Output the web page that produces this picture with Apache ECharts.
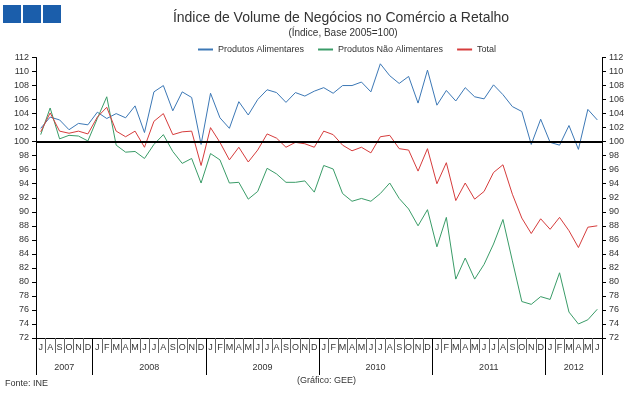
<!DOCTYPE html>
<html><head><meta charset="utf-8">
<script src="https://cdn.jsdelivr.net/npm/echarts@6/dist/echarts.min.js"></script>
<style>html,body{margin:0;padding:0;background:#fff}#c{width:643px;height:394px}</style>
</head><body><div id="c"></div>
<script>
const monthLabels = ['J','A','S','O','N','D',
 'J','F','M','A','M','J','J','A','S','O','N','D',
 'J','F','M','A','M','J','J','A','S','O','N','D',
 'J','F','M','A','M','J','J','A','S','O','N','D',
 'J','F','M','A','M','J','J','A','S','O','N','D',
 'J','F','M','A','M','J'];
const years = ['2007','2008','2009','2010','2011','2012'];
const monthsPerYear = [6,12,12,12,12,6];
const yTicks = {min:72, max:112, step:2};

const alimentares = [101.9,103.5,103.1,101.7,102.6,102.4,104.2,103.3,104.0,103.4,105.1,101.3,
 107.1,108.0,104.4,107.1,106.3,99.6,106.9,103.4,101.9,105.7,103.8,106.0,
 107.4,107.0,105.6,107.0,106.5,107.2,107.7,106.9,108.0,108.0,108.5,107.1,
 111.1,109.4,108.3,109.3,105.5,110.2,105.2,107.3,105.8,107.7,106.4,106.1,
 108.1,106.7,105.0,104.3,99.6,103.2,99.9,99.5,102.3,98.9,104.6,103.1];
const naoAlimentares = [101.0,104.8,100.4,100.9,100.8,100.1,103.3,106.4,99.5,98.5,98.6,97.6,
 99.6,101.0,98.6,96.9,97.6,94.1,98.3,97.4,94.1,94.2,91.8,92.9,
 96.2,95.4,94.2,94.2,94.4,92.8,96.6,96.1,92.6,91.5,91.9,91.5,
 92.6,94.1,91.9,90.4,88.0,90.3,85.0,89.2,80.4,83.4,80.4,82.5,
 85.4,88.9,83.0,77.2,76.8,77.9,77.5,81.3,75.7,74.0,74.6,76.1];
const total = [101.4,104.1,101.5,101.2,101.5,101.1,103.5,104.9,101.5,100.7,101.5,99.2,
 102.9,104.0,101.0,101.4,101.5,96.6,102.0,99.9,97.4,99.2,97.1,98.8,
 101.1,100.5,99.2,99.9,99.7,99.2,101.5,101.0,99.5,98.7,99.2,98.4,
 100.7,100.9,99.0,98.8,95.8,99.0,94.0,97.0,91.6,94.1,91.8,92.9,
 95.6,96.7,92.5,89.1,86.9,89.0,87.5,89.2,87.3,84.9,87.8,88.0];
const baseLine = 100;

// year boundaries and label positions (in month units)
const yearBounds = [0]; const yearMids = [];
monthsPerYear.forEach(function(n, i){ const s = yearBounds[i]; yearBounds.push(s + n); yearMids.push(s + n/2); });
const nMonths = monthLabels.length;

const gridPos = {left:36, right:41, top:57.5, bottom:56};
const txt = '#333';
const font = 'Liberation Sans, Arial, sans-serif';

const chart = echarts.init(document.getElementById('c'), null, {renderer:'canvas'});
const yAxisCommon = {
  type:'value', min:yTicks.min, max:yTicks.max, interval:yTicks.step,
  axisLine:{show:true, lineStyle:{color:'#000', width:1}},
  axisTick:{show:true, length:4, lineStyle:{color:'#000'}},
  axisLabel:{fontSize:9, color:txt, margin:7, fontFamily:font},
  splitLine:{show:false}
};
chart.setOption({
  animation:false,
  backgroundColor:'#fff',
  title:[
    {text:'Índice de Volume de Negócios no Comércio a Retalho', left:336, top:6, textAlign:'center',
     textStyle:{fontSize:14, fontWeight:'normal', color:'#333', fontFamily:font}},
    {text:'(Índice, Base 2005=100)', left:338, top:23, textAlign:'center',
     textStyle:{fontSize:10, fontWeight:'normal', color:'#333', fontFamily:font}}
  ],
  legend:{left:193, top:40, itemGap:14, itemWidth:15, itemHeight:2, icon:'rect',
    textStyle:{fontSize:9, color:txt, fontFamily:font},
    data:['Produtos Alimentares','Produtos Não Alimentares','Total']},
  grid:[Object.assign({}, gridPos), Object.assign({}, gridPos)],
  xAxis:[
    {type:'category', gridIndex:0, data:monthLabels, boundaryGap:true, position:'bottom',
     axisLine:{lineStyle:{color:'#000', width:1}},
     axisTick:{show:true, interval:0, length:15, lineStyle:{color:'#666'}},
     axisLabel:{interval:0, fontSize:9, color:txt, margin:5, fontFamily:font},
     splitLine:{show:false}},
    {type:'value', gridIndex:1, min:0, max:nMonths, position:'bottom',
     axisLine:{show:false},
     axisTick:{show:true, customValues:yearBounds, length:37, lineStyle:{color:'#000'}},
     axisLabel:{show:true, customValues:yearMids, fontSize:9, color:txt, margin:25, fontFamily:font,
       formatter:function(v){ const i = yearMids.indexOf(v); return i >= 0 ? years[i] : ''; }},
     splitLine:{show:false}}
  ],
  yAxis:[
    Object.assign({gridIndex:0, position:'left'}, yAxisCommon),
    Object.assign({gridIndex:0, position:'right'}, yAxisCommon),
    {type:'value', gridIndex:1, min:0, max:1, show:false}
  ],
  series:[
    {name:'Produtos Alimentares', type:'line', data:alimentares, xAxisIndex:0, yAxisIndex:0,
     showSymbol:false, symbol:'none', lineStyle:{width:1, color:'#3c78b6'}, itemStyle:{color:'#3c78b6'},
     markLine:{silent:true, symbol:'none', label:{show:false}, data:[{yAxis:baseLine}],
       lineStyle:{color:'#000', width:2, type:'solid'}}},
    {name:'Produtos Não Alimentares', type:'line', data:naoAlimentares, xAxisIndex:0, yAxisIndex:0,
     showSymbol:false, symbol:'none', lineStyle:{width:1, color:'#3a9c68'}, itemStyle:{color:'#3a9c68'}},
    {name:'Total', type:'line', data:total, xAxisIndex:0, yAxisIndex:0,
     showSymbol:false, symbol:'none', lineStyle:{width:1, color:'#d63c3c'}, itemStyle:{color:'#d63c3c'}}
  ],
  graphic:[
    {type:'rect', left:3, top:5, shape:{width:18, height:18}, style:{fill:'#1b5eab'}},
    {type:'rect', left:23, top:5, shape:{width:18, height:18}, style:{fill:'#1b5eab'}},
    {type:'rect', left:43, top:5, shape:{width:18, height:18}, style:{fill:'#1b5eab'}},
    {type:'text', left:5, top:379, style:{text:'Fonte: INE', fontSize:9, fill:txt, fontFamily:font}},
    {type:'text', left:297, top:376, style:{text:'(Gráfico: GEE)', fontSize:9, fill:txt, fontFamily:font}}
  ]
});
</script></body></html>
